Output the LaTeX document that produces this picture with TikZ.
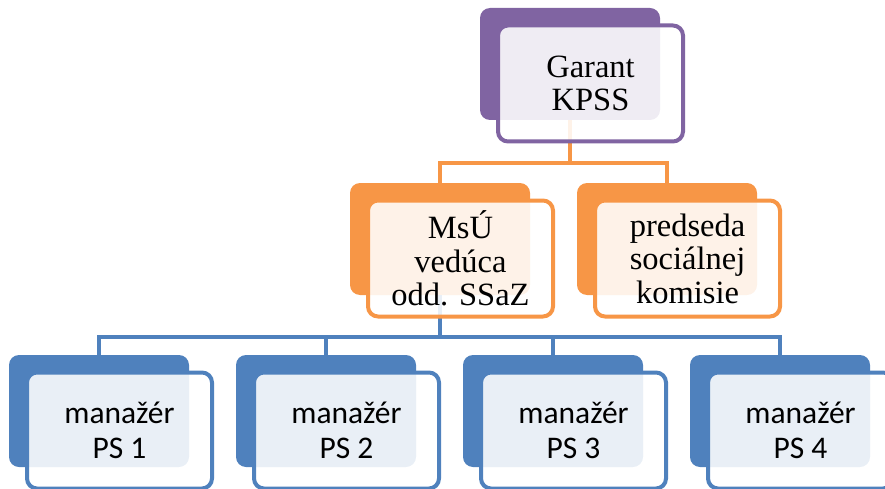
\documentclass[tikz,border=0pt]{standalone}
\usepackage{fontspec}
\setmainfont{Liberation Serif}
\newfontfamily\bodysans{Carlito}
\definecolor{purp}{HTML}{8064A2}
\definecolor{orng}{HTML}{F79646}
\definecolor{blu}{HTML}{4F81BD}

\begin{document}
\begin{tikzpicture}[x=1pt,y=-1pt,
  backbox/.style={fill=#1, rounded corners=10pt, minimum width=180pt,
    minimum height=112pt, inner sep=0pt},
  frontbox/.style={draw=#1, line width=4pt, fill=white, fill opacity=0.88,
    text opacity=1, rounded corners=10pt, minimum width=185pt,
    minimum height=116pt, inner sep=0pt, align=center},
  conn/.style={draw=#1, line width=3.8pt},
  seriflabel/.style={font=\fontsize{32.5}{33.5}\selectfont},
  sanslabel/.style={font=\bodysans\fontsize{31.5}{35}\selectfont}
]
\useasboundingbox (0,0) rectangle (885,489);
\clip (0,0) rectangle (885,489);

% back plates
\node[backbox=purp] (gb) at (570,64) {};
\node[backbox=orng] (mb) at (440,239) {};
\node[backbox=orng] (pb) at (667,239) {};
\node[backbox=blu] (m1b) at (99,411) {};
\node[backbox=blu] (m2b) at (326,411) {};
\node[backbox=blu] (m3b) at (553,411) {};
\node[backbox=blu] (m4b) at (780,411) {};

% connectors
\coordinate (j1) at (gb.south |- 0,163);
\draw[conn=orng] (gb.south) -- (j1);
\draw[conn=orng] (mb.north) |- (j1) -| (pb.north);

\coordinate (j2) at (mb.south |- 0,337);
\draw[conn=blu] (mb.south) -- (j2);
\draw[conn=blu] (m1b.north) |- (j2) -| (m4b.north);
\draw[conn=blu] (m2b.north) -- (m2b.north |- j2);
\draw[conn=blu] (m3b.north) -- (m3b.north |- j2);

% front cards with the texts
\node[frontbox=purp, seriflabel] (g) at (590.5,83.5) {Garant\\KPSS};
\node[frontbox=orng, seriflabel] (m) at (460.5,258.5) {MsÚ\\vedúca\\odd. SSaZ};
\node[frontbox=orng, seriflabel] (p) at (687.5,258.5) {predseda\\sociálnej\\komisie};
\node[frontbox=blu, sanslabel] (m1) at (119.5,430.5) {manažér\\PS 1};
\node[frontbox=blu, sanslabel] (m2) at (346.5,430.5) {manažér\\PS 2};
\node[frontbox=blu, sanslabel] (m3) at (573.5,430.5) {manažér\\PS 3};
\node[frontbox=blu, sanslabel] (m4) at (800.5,430.5) {manažér\\PS 4};
\end{tikzpicture}
\end{document}
